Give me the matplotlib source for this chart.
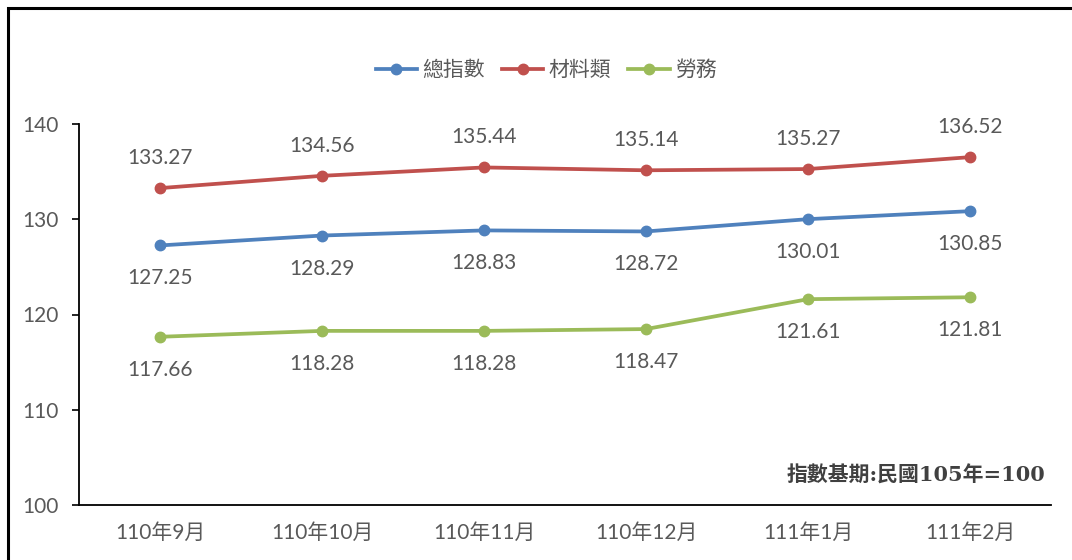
import matplotlib
matplotlib.use("Agg")
import matplotlib.pyplot as plt
from matplotlib.lines import Line2D
from matplotlib.patches import Rectangle

plt.rcParams['font.family'] = ['Lato', 'Noto Sans CJK TC', 'DejaVu Sans']

months = ["110年9月", "110年10月", "110年11月", "110年12月", "111年1月", "111年2月"]
total = [127.25, 128.29, 128.83, 128.72, 130.01, 130.85]
material = [133.27, 134.56, 135.44, 135.14, 135.27, 136.52]
labor = [117.66, 118.28, 118.28, 118.47, 121.61, 121.81]
series_names = ["總指數", "材料類", "勞務"]
yticks = [100, 110, 120, 130, 140]
note = "指數基期:民國105年=100"

colors = ["#4F81BD", "#C0504D", "#9BBB59"]
txt = "#595959"

fig = plt.figure(figsize=(10.72, 5.6), dpi=100)
ax = fig.add_axes([79/1072, 1-505/560, (1051-79)/1072, (505-124)/560])

x = list(range(len(months)))
offsets = [-33, 30, -33]
for vals, c, name, off in zip([total, material, labor], colors, series_names, offsets):
    ax.plot(x, vals, color=c, lw=2.7, marker='o', ms=7.5, label=name)
    for xi, v in zip(x, vals):
        ax.annotate(f"{v:.2f}", (xi, v), xytext=(0, off * 0.72), textcoords='offset points',
                    ha='center', va='center', fontsize=15, color=txt)

ax.set_xlim(-0.5, len(months) - 0.5)
ax.set_ylim(100, 140)
ax.set_yticks(yticks)
ax.set_yticklabels([str(t) for t in yticks], fontsize=15, color=txt)
ax.set_xticks(x)
ax.set_xticklabels(months, fontsize=15, color=txt)
ax.tick_params(axis='x', length=0, pad=13)
ax.tick_params(axis='y', length=5, width=1.2, color='black', pad=10, direction='out')
for s in ['top', 'right']:
    ax.spines[s].set_visible(False)
for s in ['left', 'bottom']:
    ax.spines[s].set_linewidth(1.3)
    ax.spines[s].set_color('black')

handles = [Line2D([0], [0], color=c, lw=2.7, marker='o', ms=7.5) for c in colors]
fig.legend(handles, series_names, loc='center', bbox_to_anchor=(546/1072, 1-70/560),
           ncol=3, frameon=False, fontsize=15, handlelength=2.0, columnspacing=0.8,
           handletextpad=0.25, labelcolor=txt)

fig.text(1045/1072, 1-476/560, note, ha='right', va='center', fontsize=15,
         fontweight='bold', color='#404040', family=['DejaVu Serif', 'Noto Sans CJK TC'])

fig.patches.append(Rectangle((8/1072, -0.1), 1.2, 1 - 8/560 + 0.1, transform=fig.transFigure,
                             fill=False, edgecolor='black', lw=2.2))

fig.savefig("out.png", dpi=100)
